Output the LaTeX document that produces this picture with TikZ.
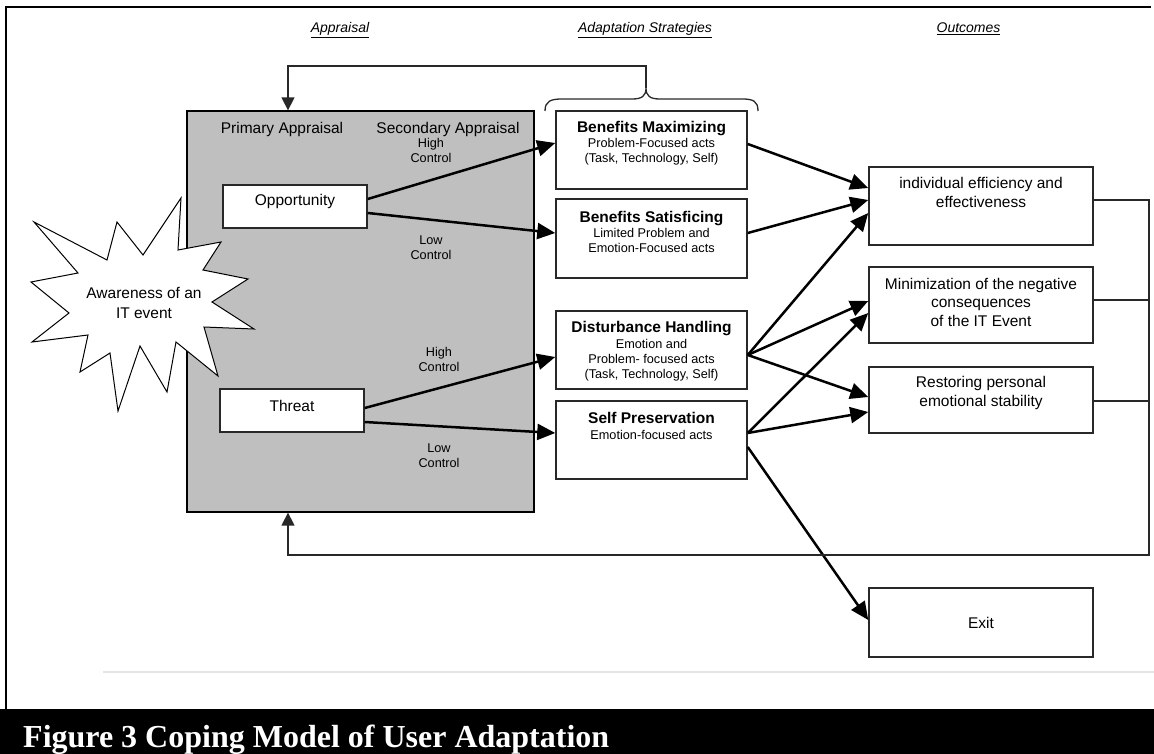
\documentclass[tikz,border=0pt]{standalone}
\usepackage{fontspec}
\setmainfont{Liberation Sans}
\newfontfamily\capfont{Liberation Serif}
\usetikzlibrary{arrows.meta}
\definecolor{apfill}{RGB}{191,191,191}
\definecolor{edge}{RGB}{40,40,40}
\newcommand\ttlfont{\bfseries\fontsize{15.5}{15.2}\selectfont}

\begin{document}
\begin{tikzpicture}[x=1pt,y=-1pt,
  box/.style={draw=edge, line width=1.5pt, fill=white, inner sep=0pt},
  txt/.style={inner sep=0pt, align=center, font=\fontsize{15.5}{18.5}\selectfont},
  small/.style={inner sep=0pt, align=center, font=\fontsize{12.7}{15.2}\selectfont},
  head/.style={inner sep=0pt, anchor=base, font=\fontsize{14}{16}\selectfont\itshape},
  flow/.style={line width=2.5pt, -{Triangle[length=18pt 0,width=16pt 0]}},
  fbline/.style={line width=1.5pt, draw=edge},
  fbarrow/.style={fbline, -{Triangle[length=13pt 0,width=13pt 0]}}]

\useasboundingbox (0,0) rectangle (1154,754);
\fill[white] (0,0) rectangle (1154,754);

% page frame, rule and caption bar
\draw[line width=2.8pt, line join=miter] (6,709) -- (6,7) -- (1151,7);
\draw[line width=1.5pt, black!10] (103,672) -- (1154,672);
\fill[black] (0,709) rectangle (1154,754);
\node[anchor=base west, text=white, inner sep=0pt,
      font=\capfont\bfseries\fontsize{32}{36}\selectfont] (cap) at (23,747)
  {Figure 3 Coping Model of User Adaptation};

% column headings
\node[head] (h-app) at (340,33) {\underline{Appraisal}};
\node[head] (h-ada) at (645,33) {\underline{Adaptation Strategies}};
\node[head] (h-out) at (968.5,33) {\underline{Outcomes}};

% appraisal panel
\node[draw=black, line width=1.3pt, fill=apfill, minimum width=347pt, minimum height=401pt, inner sep=0pt] (app) at (360.5,311.5) {};
\node[txt, anchor=base] (prim) at (282,134) {Primary Appraisal};
\node[txt, anchor=base] (sec) at (448,134) {Secondary Appraisal};

% the triggering event
\draw[line width=1pt, fill=white, line join=miter]
  (181,198) -- (178,250) -- (221,242) -- (203,270) -- (248,279) -- (212,302) --
  (254,329) -- (204,327) -- (218,376) -- (176,342) -- (167,392) -- (140,346) --
  (118,411) -- (110,353) -- (80,372) -- (88,335) -- (32,342) -- (69,313) --
  (31,282) -- (78,273) -- (34,222) -- (107,260) -- (117,222) -- (143,255) -- cycle;
\node[txt, font=\fontsize{15.5}{20}\selectfont] (aware) at (144,303) {Awareness of an\\IT event};

% primary appraisal outcomes
\node[box, minimum width=144pt, minimum height=43pt] (opp) at (295,206.5) {};
\node[txt, anchor=base] (opp-t) at (295,206) {Opportunity};
\node[box, minimum width=144pt, minimum height=43pt] (thr) at (292,410.5) {};
\node[txt, anchor=base] (thr-t) at (292,411) {Threat};

% control labels
\node[small] (hc1) at (431,150.5) {High\\Control};
\node[small] (lc1) at (431,247.5) {Low\\Control};
\node[small] (hc2) at (439,359.5) {High\\Control};
\node[small] (lc2) at (439,456) {Low\\Control};

% adaptation strategies
\node[box, minimum width=191pt, minimum height=78pt] (bm) at (651.5,150) {};
\node[small] (bm-t) at (651.5,143.5) {{\ttlfont Benefits Maximizing}\\Problem-Focused acts\\(Task, Technology, Self)};
\node[box, minimum width=191pt, minimum height=79pt] (bs) at (651.5,238.5) {};
\node[small] (bs-t) at (651.5,232) {{\ttlfont Benefits Satisficing}\\Limited Problem and\\Emotion-Focused acts};
\node[box, minimum width=191pt, minimum height=78pt] (dh) at (651.5,350) {};
\node[small] (dh-t) at (651.5,351.5) {{\ttlfont Disturbance Handling}\\Emotion and\\Problem- focused acts\\(Task, Technology, Self)};
\node[box, minimum width=191pt, minimum height=78pt] (sp) at (651.5,440) {};
\node[small, font=\fontsize{12.7}{16}\selectfont] (sp-t) at (651.5,425.5) {{\ttlfont Self Preservation}\\Emotion-focused acts};

% outcomes
\node[box, minimum width=224pt, minimum height=78pt] (eff) at (981,206) {};
\node[txt] (eff-t) at (981,192.5) {individual efficiency and\\effectiveness};
\node[box, minimum width=224pt, minimum height=76pt] (min) at (981,305) {};
\node[txt] (min-t) at (981,302) {Minimization of the negative\\consequences\\of the IT Event};
\node[box, minimum width=224pt, minimum height=66pt] (res) at (981,400) {};
\node[txt] (res-t) at (981,393) {Restoring personal\\emotional stability};
\node[box, minimum width=224pt, minimum height=69pt] (exit) at (981,622.5) {};
\node[txt, anchor=base] (exit-t) at (981,628.5) {Exit};

% appraisal to strategies
\draw[flow] ([yshift=7.5pt]opp.east) -- ([yshift=7pt]bm.west);
\draw[flow] ([yshift=-6.5pt]opp.east) -- ([yshift=5.5pt]bs.west);
\draw[flow] ([yshift=2.5pt]thr.east) -- ([yshift=-7pt]dh.west);
\draw[flow] ([yshift=-11.5pt]thr.east) -- ([yshift=7pt]sp.west);

% strategies to outcomes
\draw[flow] ([yshift=6pt]bm.east) -- ([yshift=18pt]eff.west);
\draw[flow] ([yshift=5.5pt]bs.east) -- ([yshift=6pt]eff.west);
\draw[flow] ([yshift=-5pt]dh.east) -- ([yshift=-7pt]eff.west);
\draw[flow] ([yshift=-5pt]dh.east) -- ([yshift=4pt]min.west);
\draw[flow] ([yshift=-5pt]dh.east) -- ([yshift=3pt]res.west);
\draw[flow] ([yshift=7pt]sp.east) -- ([yshift=-8pt]min.west);
\draw[flow] ([yshift=7pt]sp.east) -- ([yshift=-12pt]res.west);
\draw[flow] ([yshift=-7pt]sp.east) -- ([yshift=2.5pt]exit.west);

% feedback from outcomes back to appraisal
\coordinate (rr) at (1149,200);
\coordinate (m1) at (1149,300);
\coordinate (r1) at (1149,401);
\coordinate (rb) at (1149,555);
\coordinate (lb) at (288,555);
\draw[fbarrow] (eff.east |- rr) -- (rr) -- (rb) -- (lb) -- (lb |- app.south);
\draw[fbline] (min.east |- m1) -- (m1);
\draw[fbline] (res.east |- r1) -- (r1);

% brace over the strategies and feedback to appraisal
\coordinate (bt) at (646,88);
\coordinate (tl) at (288,66);
\draw[line width=1.3pt, draw=edge]
  (545,111) .. controls (545,101) and (551,99) .. (562,99) -- (632,99)
  .. controls (642,99) and (646,96) .. (bt)
  .. controls (646,96) and (650,99) .. (660,99) -- (742,99)
  .. controls (753,99) and (758,101) .. (758,111);
\draw[fbarrow] (bt) -- (bt |- tl) -- (tl) -- (tl |- app.north);

\end{tikzpicture}
\end{document}
